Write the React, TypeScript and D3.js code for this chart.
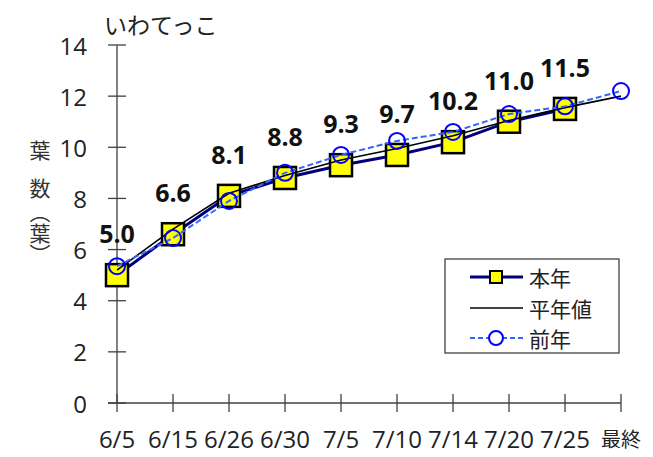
import * as d3 from "d3";
import { useEffect, useRef } from "react";

const categories = ["6/5", "6/15", "6/26", "6/30", "7/5", "7/10", "7/14", "7/20", "7/25", "最終"];
const thisYear = [5.0, 6.6, 8.1, 8.8, 9.3, 9.7, 10.2, 11.0, 11.5, null];
const normalYear = [5.2, 6.8, 8.2, 8.9, 9.5, 9.95, 10.45, 11.05, 11.55, 12.0];
const lastYear = [5.35, 6.45, 7.9, 9.0, 9.7, 10.25, 10.6, 11.3, 11.6, 12.2];
const yTicks = [0, 2, 4, 6, 8, 10, 12, 14];
const legendItems = ["本年", "平年値", "前年"];

const JP = "'Noto Sans CJK JP', 'Noto Sans', sans-serif";
const NUM = "'Open Sans', 'Noto Sans', sans-serif";

const App = () => {
  const ref = useRef<SVGSVGElement>(null);

  useEffect(() => {
    document.body.style.margin = "0";
    const width = 653;
    const height = 457;

    const svg = d3.select(ref.current).attr("width", width).attr("height", height).html("");

    const x = d3.scalePoint<string>().domain(categories).range([117, 621]);
    const y = d3.scaleLinear().domain([0, 14]).range([403, 45]);
    const axisColor = "#404040";

    // title
    svg
      .append("text")
      .attr("x", 104)
      .attr("y", 34)
      .style("font-family", JP)
      .style("font-size", "23px")
      .style("fill", "#222")
      .text("いわてっこ");

    // y axis title (vertical)
    const yt = svg.append("g").style("font-family", JP).style("font-size", "21px").style("fill", "#333");
    [
      { ch: "葉", y: 149 },
      { ch: "数", y: 187 },
    ].forEach((d) => {
      yt.append("text")
        .attr("x", 40)
        .attr("y", d.y)
        .attr("text-anchor", "middle")
        .attr("dominant-baseline", "central")
        .text(d.ch);
    });
    yt.append("text")
      .attr("x", 40)
      .attr("y", 202)
      .style("writing-mode", "vertical-rl")
      .text("（葉）");

    // axes
    const axes = svg.append("g").attr("stroke", axisColor).attr("stroke-width", 1.3);
    axes.append("line").attr("x1", x("6/5")!).attr("x2", x("6/5")!).attr("y1", y(14)).attr("y2", y(0));
    axes.append("line").attr("x1", 108).attr("x2", x("最終")!).attr("y1", y(0)).attr("y2", y(0));
    axes
      .selectAll(".yt")
      .data(yTicks)
      .enter()
      .append("line")
      .attr("x1", 108)
      .attr("x2", 126)
      .attr("y1", (d) => y(d))
      .attr("y2", (d) => y(d));
    axes
      .selectAll(".xt")
      .data(categories)
      .enter()
      .append("line")
      .attr("x1", (d) => x(d)!)
      .attr("x2", (d) => x(d)!)
      .attr("y1", y(0) - 9)
      .attr("y2", y(0) + 9);

    svg
      .append("g")
      .selectAll("text")
      .data(yTicks)
      .enter()
      .append("text")
      .attr("x", 87)
      .attr("y", (d) => y(d))
      .attr("text-anchor", "end")
      .attr("dominant-baseline", "central")
      .style("font-family", NUM)
      .style("font-size", "24px")
      .style("fill", "#222")
      .text((d) => d);

    svg
      .append("g")
      .selectAll("text")
      .data(categories)
      .enter()
      .append("text")
      .attr("x", (d) => x(d)!)
      .attr("y", 438)
      .attr("text-anchor", "middle")
      .attr("dominant-baseline", "central")
      .style("font-family", (d) => (d === "最終" ? JP : NUM))
      .style("font-size", (d) => (d === "最終" ? "20px" : "24px"))
      .style("fill", "#222")
      .text((d) => d);

    const pts = (vals: (number | null)[]) =>
      vals.map((v, i) => ({ c: categories[i], v })).filter((d) => d.v !== null) as { c: string; v: number }[];

    const line = d3
      .line<{ c: string; v: number }>()
      .x((d) => x(d.c)!)
      .y((d) => y(d.v));

    // 本年
    const cur = pts(thisYear);
    svg.append("path").attr("d", line(cur)).attr("fill", "none").attr("stroke", "#00007f").attr("stroke-width", 3);
    svg
      .append("g")
      .selectAll("rect")
      .data(cur)
      .enter()
      .append("rect")
      .attr("x", (d) => x(d.c)! - 11)
      .attr("y", (d) => y(d.v) - 11)
      .attr("width", 22)
      .attr("height", 22)
      .attr("fill", "#ffff00")
      .attr("stroke", "#000")
      .attr("stroke-width", 2.5);

    // 平年値
    svg
      .append("path")
      .attr("d", line(pts(normalYear)))
      .attr("fill", "none")
      .attr("stroke", "#000")
      .attr("stroke-width", 1.6);

    // 前年
    const prev = pts(lastYear);
    svg
      .append("path")
      .attr("d", line(prev))
      .attr("fill", "none")
      .attr("stroke", "#3366ff")
      .attr("stroke-width", 2)
      .attr("stroke-dasharray", "6,3");
    svg
      .append("g")
      .selectAll("circle")
      .data(prev)
      .enter()
      .append("circle")
      .attr("cx", (d) => x(d.c)!)
      .attr("cy", (d) => y(d.v))
      .attr("r", 8)
      .attr("fill", "none")
      .attr("stroke", "#0000ff")
      .attr("stroke-width", 2);

    // value labels
    svg
      .append("g")
      .selectAll("text")
      .data(cur)
      .enter()
      .append("text")
      .attr("x", (d) => x(d.c)!)
      .attr("y", (d) => y(d.v) - 32)
      .attr("text-anchor", "middle")
      .style("font-family", NUM)
      .style("font-size", "25px")
      .style("font-weight", "700")
      .style("fill", "#111")
      .text((d) => d.v.toFixed(1));

    // legend
    const lg = svg.append("g");
    lg.append("rect")
      .attr("x", 445)
      .attr("y", 259)
      .attr("width", 174)
      .attr("height", 94)
      .attr("fill", "#fff")
      .attr("stroke", "#333")
      .attr("stroke-width", 1.2);
    const rows = [277, 308, 338];
    legendItems.forEach((name, i) => {
      const ly = rows[i];
      const g = lg.append("g");
      if (i === 0) {
        g.append("line").attr("x1", 470).attr("x2", 523).attr("y1", ly).attr("y2", ly).attr("stroke", "#00007f").attr("stroke-width", 3);
        g.append("rect").attr("x", 490).attr("y", ly - 6).attr("width", 12).attr("height", 12).attr("fill", "#ffff00").attr("stroke", "#000").attr("stroke-width", 2);
      } else if (i === 1) {
        g.append("line").attr("x1", 470).attr("x2", 523).attr("y1", ly).attr("y2", ly).attr("stroke", "#000").attr("stroke-width", 1.6);
      } else {
        g.append("line").attr("x1", 470).attr("x2", 523).attr("y1", ly).attr("y2", ly).attr("stroke", "#3366ff").attr("stroke-width", 2).attr("stroke-dasharray", "5,3");
        g.append("circle").attr("cx", 496).attr("cy", ly).attr("r", 7).attr("fill", "#fff").attr("stroke", "#0000ff").attr("stroke-width", 2);
      }
      g.append("text")
        .attr("x", 529)
        .attr("y", ly)
        .attr("dominant-baseline", "central")
        .style("font-family", JP)
        .style("font-size", "21px")
        .style("fill", "#222")
        .text(name);
    });
  }, []);

  return <svg ref={ref} style={{ display: "block" }}></svg>;
};

export default App;
